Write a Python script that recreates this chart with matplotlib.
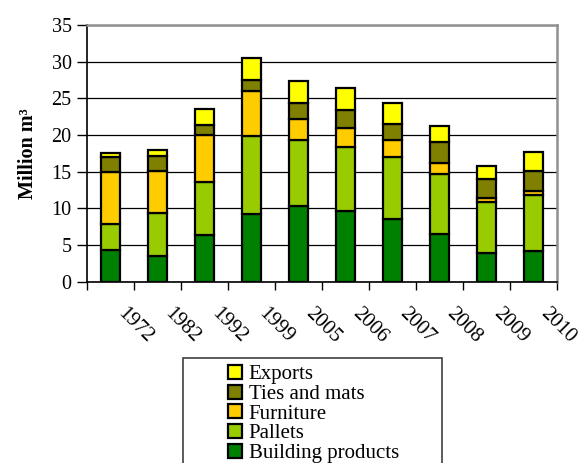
import matplotlib
matplotlib.use("Agg")
import matplotlib.pyplot as plt
import matplotlib.transforms as mtransforms
from matplotlib.patches import Rectangle
import numpy as np

years = ["1972", "1982", "1992", "1999", "2005", "2006", "2007", "2008", "2009", "2010"]
building = [4.3, 3.45, 6.3, 9.2, 10.3, 9.7, 8.55, 6.45, 3.85, 4.2]
pallets = [3.5, 5.85, 7.3, 10.7, 9.0, 8.7, 8.4, 8.25, 7.05, 7.6]
furniture = [7.1, 5.8, 6.4, 6.1, 2.9, 2.5, 2.35, 1.5, 0.5, 0.6]
ties = [2.1, 2.1, 1.3, 1.5, 2.1, 2.5, 2.2, 2.9, 2.55, 2.7]
exports = [0.5, 0.75, 2.3, 2.95, 3.1, 3.05, 2.8, 2.1, 1.85, 2.6]

series = [
    ("Building products", building, "#008000"),
    ("Pallets", pallets, "#99CC00"),
    ("Furniture", furniture, "#FFCC00"),
    ("Ties and mats", ties, "#808000"),
    ("Exports", exports, "#FFFF00"),
]

plt.rcParams["font.family"] = ["Liberation Serif", "DejaVu Serif"]

fig = plt.figure(figsize=(5.79, 4.63), dpi=100)
ax = fig.add_axes([0.1503, 0.3916, 0.8112, 0.5544])

x = np.arange(len(years))
bottom = np.zeros(len(years))
handles = []
for name, vals, color in series:
    bars = ax.bar(x, vals, width=0.4, bottom=bottom, color=color,
                  edgecolor="black", linewidth=1.6, label=name, zorder=3)
    handles.append(bars)
    bottom += np.array(vals)

ax.set_xlim(-0.5, len(years) - 0.5)
ax.set_ylim(0, 35)
ax.set_yticks(range(0, 36, 5))
ax.yaxis.grid(True, color="black", linewidth=0.9, zorder=0)
ax.set_axisbelow(True)

# tick marks sit between categories, labels at the bar centres
ax.set_xticks(x)
ax.set_xticklabels(years, rotation=-45, ha="left", va="top",
                   rotation_mode="anchor", fontsize=15)
ax.set_xticks(np.arange(-0.5, len(years)), minor=True)
ax.tick_params(axis="x", which="major", length=0, pad=16)
ax.tick_params(axis="x", which="minor", length=6, width=1, direction="out")
ax.tick_params(axis="y", length=7, width=1, labelsize=14.5, pad=4)
offset = mtransforms.ScaledTranslation(17 / 100, 0, fig.dpi_scale_trans)
for lbl in ax.get_xticklabels():
    lbl.set_transform(lbl.get_transform() + offset)

for side in ["top", "right"]:
    ax.spines[side].set_color("#909090")
    ax.spines[side].set_linewidth(1.8)
ax.spines["left"].set_linewidth(1.2)
ax.spines["bottom"].set_linewidth(1.2)

fig.text(0.048, 0.668, "Million m³", rotation=90, ha="center", va="center",
         fontsize=14.5, fontweight="bold")

# legend box runs off the bottom of the image
fig.patches.append(Rectangle((0.316, -0.05), 0.447, 0.2768, transform=fig.transFigure,
                             facecolor="none", edgecolor="#404040", linewidth=1.2))
fig.legend(handles[::-1], [s[0] for s in series][::-1], loc="upper left",
           bbox_to_anchor=(0.3938, 0.2117), frameon=False, fontsize=15,
           handlelength=0.65, handleheight=0.65, handletextpad=0.35,
           labelspacing=0.02, borderpad=0, borderaxespad=0)

fig.savefig("out.png", dpi=100)
